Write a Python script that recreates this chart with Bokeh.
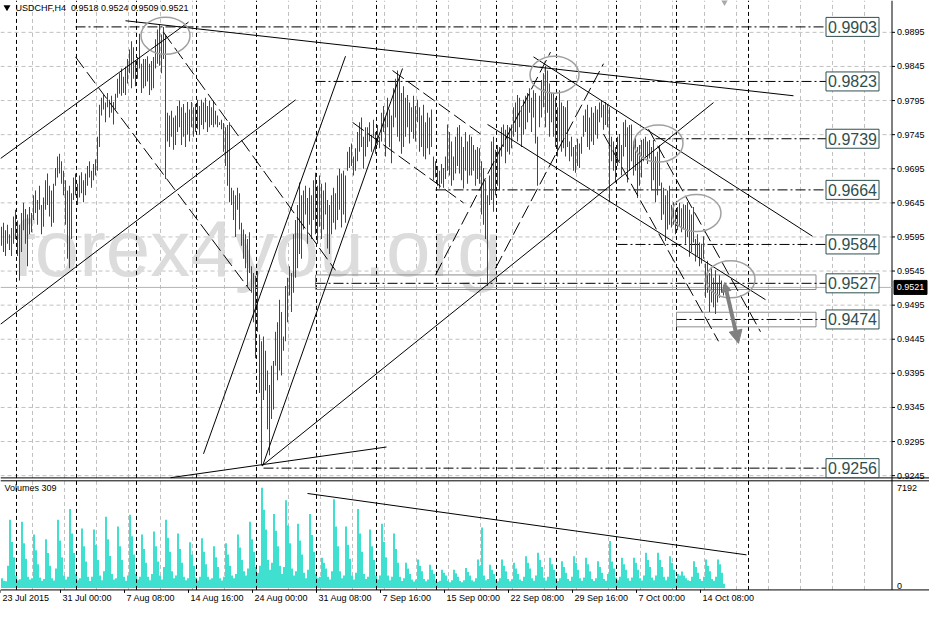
from bokeh.plotting import figure
from bokeh.models import Range1d, ColumnDataSource, Arrow, NormalHead
from bokeh.core.properties import value
from bokeh.embed import file_html
from bokeh.resources import INLINE

# ---------------- data ----------------
symbol_title = "USDCHF,H4"
last_ohlc = ["0.9518", "0.9524", "0.9509", "0.9521"]
volume_title = "Volumes 309"
watermark = "forex4you.org"

highs = [
    0.9610, 0.9616, 0.9605, 0.9613, 0.9599, 0.9608,
    0.9625, 0.9635, 0.9619, 0.9613, 0.9630,
    0.9645, 0.9636, 0.9628, 0.9639, 0.9630,
    0.9656, 0.9663, 0.9649, 0.9670, 0.9642, 0.9653,
    0.9678, 0.9688, 0.9670, 0.9663, 0.9673,
    0.9696, 0.9713, 0.9717, 0.9706,
    0.9692, 0.9678, 0.9663, 0.9670, 0.9659,
    0.9682, 0.9688, 0.9673, 0.9685, 0.9690, 0.9678, 0.9688,
    0.9699, 0.9706, 0.9692, 0.9702, 0.9709,
    0.9742, 0.9789,
    0.9799, 0.9803, 0.9792, 0.9806, 0.9796, 0.9802, 0.9793, 0.9805,
    0.9827, 0.9835, 0.9842, 0.9830, 0.9845,
    0.9856, 0.9870, 0.9882, 0.9873,
    0.9853, 0.9859, 0.9893, 0.9849, 0.9856,
    0.9856, 0.9860, 0.9849, 0.9853, 0.9859,
    0.9885, 0.9899, 0.9906, 0.9892, 0.9903,
    0.9892,
    0.9777, 0.9773, 0.9780, 0.9770, 0.9773,
    0.9787, 0.9795, 0.9785, 0.9790, 0.9777, 0.9793, 0.9782,
    0.9793, 0.9785, 0.9790, 0.9796, 0.9787,
    0.9796, 0.9792, 0.9799, 0.9787, 0.9795, 0.9785, 0.9793,
    0.9780, 0.9773, 0.9763, 0.9767,
    0.9762, 0.9756, 0.9759, 0.9763,
    0.9667, 0.9663, 0.9656, 0.9667, 0.9659,
    0.9616, 0.9606, 0.9599, 0.9592, 0.9602,
    0.9552, 0.9542, 0.9538, 0.9545,
    0.9452, 0.9442, 0.9449,
    0.9428, 0.9399, 0.9378, 0.9406, 0.9413,
    0.9456, 0.9470, 0.9503, 0.9485, 0.9449,
    0.9523, 0.9535, 0.9552, 0.9542,
    0.9599, 0.9620, 0.9642, 0.9675, 0.9656,
    0.9663, 0.9670, 0.9652, 0.9667, 0.9656,
    0.9678, 0.9689, 0.9670, 0.9685, 0.9673,
    0.9663, 0.9675, 0.9649, 0.9642, 0.9656, 0.9667, 0.9659,
    0.9685, 0.9695, 0.9688, 0.9692, 0.9685,
    0.9720, 0.9727, 0.9732, 0.9713, 0.9725,
    0.9749, 0.9763, 0.9770, 0.9742, 0.9756,
    0.9756, 0.9763, 0.9745, 0.9767, 0.9749, 0.9759, 0.9742,
    0.9777, 0.9787, 0.9770, 0.9799, 0.9782, 0.9773,
    0.9813, 0.9827, 0.9839, 0.9830, 0.9806, 0.9816,
    0.9799, 0.9803, 0.9792, 0.9785, 0.9802, 0.9787, 0.9796,
    0.9785, 0.9773, 0.9789, 0.9763, 0.9777, 0.9770, 0.9782,
    0.9713, 0.9706, 0.9699, 0.9692, 0.9702, 0.9696, 0.9713,
    0.9760, 0.9749, 0.9735, 0.9713, 0.9742,
    0.9756, 0.9759, 0.9742, 0.9727, 0.9749, 0.9735, 0.9745,
    0.9742, 0.9730, 0.9723, 0.9727, 0.9725,
    0.9706, 0.9696, 0.9678, 0.9656, 0.9685,
    0.9735, 0.9742, 0.9723, 0.9730, 0.9727,
    0.9756, 0.9760, 0.9752, 0.9759, 0.9756, 0.9760,
    0.9785, 0.9792, 0.9803, 0.9799, 0.9787, 0.9796, 0.9802,
    0.9806, 0.9813, 0.9799, 0.9810, 0.9806, 0.9742, 0.9802,
    0.9825, 0.9835, 0.9846, 0.9839, 0.9820, 0.9806,
    0.9806, 0.9799, 0.9785, 0.9810, 0.9792, 0.9787, 0.9785, 0.9795,
    0.9735, 0.9742, 0.9727, 0.9730, 0.9739, 0.9732, 0.9742,
    0.9773, 0.9782, 0.9789, 0.9770, 0.9785, 0.9777, 0.9787, 0.9782,
    0.9792, 0.9795, 0.9789, 0.9793, 0.9790,
    0.9785, 0.9742,
    0.9735, 0.9727, 0.9742, 0.9746, 0.9730,
    0.9763, 0.9767, 0.9756, 0.9759, 0.9760,
    0.9735, 0.9742, 0.9727, 0.9730, 0.9737,
    0.9739, 0.9742, 0.9735, 0.9737,
    0.9727, 0.9737, 0.9713, 0.9720, 0.9730,
    0.9675, 0.9667, 0.9656, 0.9663, 0.9670,
    0.9642, 0.9646, 0.9635, 0.9639, 0.9645, 0.9637, 0.9643,
    0.9642, 0.9646, 0.9635, 0.9628, 0.9639,
    0.9592, 0.9599, 0.9587, 0.9585, 0.9596,
    0.9556, 0.9560, 0.9542, 0.9549,
    0.9535, 0.9546, 0.9528, 0.9539, 0.9531, 0.9524,
]

lows = [
    0.9582, 0.9573, 0.9567, 0.9585, 0.9576, 0.9567,
    0.9585, 0.9592, 0.9567, 0.9531, 0.9573,
    0.9605, 0.9585, 0.9552, 0.9599, 0.9602,
    0.9620, 0.9630, 0.9613, 0.9635, 0.9599, 0.9610,
    0.9635, 0.9642, 0.9625, 0.9610, 0.9616,
    0.9670, 0.9682, 0.9688, 0.9673,
    0.9656, 0.9613, 0.9563, 0.9549, 0.9592,
    0.9649, 0.9656, 0.9642, 0.9653, 0.9659, 0.9646, 0.9656,
    0.9670, 0.9682, 0.9667, 0.9678, 0.9685,
    0.9692, 0.9727,
    0.9773, 0.9782, 0.9763, 0.9785, 0.9770, 0.9777, 0.9760, 0.9782,
    0.9799, 0.9805, 0.9802, 0.9806, 0.9803,
    0.9820, 0.9835, 0.9813, 0.9827,
    0.9816, 0.9827, 0.9842, 0.9806, 0.9813,
    0.9816, 0.9823, 0.9803, 0.9810, 0.9813,
    0.9842, 0.9849, 0.9846, 0.9835, 0.9856,
    0.9680,
    0.9735, 0.9727, 0.9742, 0.9723, 0.9730,
    0.9749, 0.9756, 0.9730, 0.9742, 0.9727, 0.9745, 0.9735,
    0.9756, 0.9742, 0.9749, 0.9753, 0.9745,
    0.9759, 0.9753, 0.9763, 0.9749, 0.9756, 0.9759, 0.9756,
    0.9760, 0.9756, 0.9759, 0.9753,
    0.9720, 0.9699, 0.9670, 0.9646,
    0.9642, 0.9620, 0.9595, 0.9635, 0.9606,
    0.9582, 0.9563, 0.9549, 0.9523, 0.9542,
    0.9513, 0.9470, 0.9417, 0.9456,
    0.9366, 0.9260, 0.9356,
    0.9370, 0.9313, 0.9275, 0.9328, 0.9342,
    0.9406, 0.9385, 0.9399, 0.9392, 0.9428,
    0.9442, 0.9470, 0.9509, 0.9485,
    0.9513, 0.9535, 0.9549, 0.9570, 0.9563,
    0.9606, 0.9628, 0.9585, 0.9613, 0.9592,
    0.9620, 0.9599, 0.9585, 0.9610, 0.9592,
    0.9606, 0.9628, 0.9578, 0.9570, 0.9599, 0.9616, 0.9606,
    0.9620, 0.9635, 0.9609, 0.9628, 0.9616,
    0.9692, 0.9696, 0.9699, 0.9685, 0.9692,
    0.9706, 0.9720, 0.9727, 0.9695, 0.9713,
    0.9727, 0.9735, 0.9720, 0.9742, 0.9717, 0.9730, 0.9725,
    0.9735, 0.9749, 0.9713, 0.9756, 0.9727, 0.9703,
    0.9756, 0.9770, 0.9742, 0.9735, 0.9717, 0.9727,
    0.9742, 0.9756, 0.9732, 0.9749, 0.9739, 0.9735, 0.9763,
    0.9720, 0.9727, 0.9713, 0.9709, 0.9725, 0.9716, 0.9727,
    0.9678, 0.9682, 0.9670, 0.9666, 0.9673, 0.9667, 0.9680,
    0.9692, 0.9685, 0.9670, 0.9678, 0.9688,
    0.9699, 0.9688, 0.9678, 0.9666, 0.9692, 0.9673, 0.9685,
    0.9685, 0.9692, 0.9670, 0.9680, 0.9673,
    0.9628, 0.9613, 0.9592, 0.9523, 0.9642,
    0.9649, 0.9632, 0.9656, 0.9670, 0.9663,
    0.9713, 0.9727, 0.9703, 0.9720, 0.9716, 0.9725,
    0.9742, 0.9749, 0.9735, 0.9756, 0.9727, 0.9745, 0.9753,
    0.9763, 0.9777, 0.9749, 0.9770, 0.9732, 0.9670, 0.9756,
    0.9770, 0.9785, 0.9756, 0.9777, 0.9742, 0.9763,
    0.9742, 0.9727, 0.9713, 0.9735, 0.9720, 0.9725, 0.9713, 0.9727,
    0.9706, 0.9713, 0.9692, 0.9689, 0.9699, 0.9696, 0.9717,
    0.9742, 0.9749, 0.9727, 0.9723, 0.9735, 0.9730, 0.9745, 0.9739,
    0.9763, 0.9770, 0.9752, 0.9759, 0.9756,
    0.9646, 0.9706,
    0.9692, 0.9675, 0.9699, 0.9706, 0.9685,
    0.9713, 0.9727, 0.9675, 0.9692, 0.9706,
    0.9685, 0.9692, 0.9652, 0.9670, 0.9682,
    0.9706, 0.9713, 0.9702, 0.9710,
    0.9663, 0.9678, 0.9646, 0.9656, 0.9670,
    0.9620, 0.9628, 0.9589, 0.9606, 0.9613,
    0.9609, 0.9613, 0.9599, 0.9605, 0.9610, 0.9602, 0.9606,
    0.9585, 0.9595, 0.9566, 0.9573, 0.9587,
    0.9559, 0.9567, 0.9552, 0.9556, 0.9563,
    0.9506, 0.9513, 0.9485, 0.9499,
    0.9492, 0.9482, 0.9499, 0.9506, 0.9513, 0.9509,
]

volumes = [
    700, 520, 480, 1600, 4890, 3300,
    2200, 900, 560, 620, 4750, 3200,
    2100, 800, 600, 700, 3840, 2700,
    1700, 760, 520, 650, 3490, 2500,
    1600, 700, 540, 1400, 4890, 3400,
    2200, 900, 600, 800, 5660, 3900,
    2500, 1000, 560, 700, 4260, 3000,
    1900, 800, 500, 800, 4190, 3100,
    2000, 900, 560, 1200, 5100, 3500,
    2300, 1000, 600, 700, 4400, 3000,
    2000, 800, 520, 900, 5240, 3700,
    2400, 1000, 600, 800, 3840, 2800,
    1800, 800, 560, 1000, 4050, 3000,
    1900, 900, 600, 1500, 4890, 3600,
    2600, 1200, 700, 900, 3910, 2800,
    1800, 800, 560, 700, 3280, 2400,
    1600, 760, 540, 800, 3560, 2600,
    1700, 800, 600, 700, 3000, 2200,
    1500, 700, 540, 800, 3210, 2400,
    1600, 900, 700, 1000, 3840, 2900,
    2000, 1200, 900, 1400, 4750, 3500,
    2600, 1500, 1100, 1600, 7192, 5600,
    4200, 2000, 1300, 1800, 5310, 4100,
    3000, 1600, 1000, 1500, 6290, 4500,
    3200, 1400, 900, 1200, 4610, 3400,
    2400, 1100, 700, 1300, 5310, 3800,
    2600, 1000, 700, 800, 2170, 1800,
    1400, 800, 600, 1200, 6360, 4400,
    3000, 1200, 700, 900, 4400, 3100,
    2100, 900, 600, 1100, 5660, 3900,
    2600, 1000, 640, 800, 4190, 3000,
    2000, 900, 600, 900, 4610, 3300,
    2200, 900, 560, 800, 3910, 2800,
    1800, 800, 500, 700, 1800, 1400,
    1000, 600, 460, 600, 2040, 1600,
    1200, 640, 480, 600, 1670, 1300,
    1000, 560, 440, 520, 1310, 1100,
    900, 520, 420, 560, 1310, 1050,
    800, 500, 420, 560, 1430, 1150,
    900, 560, 460, 700, 2040, 1600,
    4340, 900, 560, 640, 1670, 1300,
    1000, 600, 480, 700, 2040, 1600,
    1200, 640, 480, 620, 1800, 1400,
    1000, 600, 500, 800, 2280, 1800,
    1400, 700, 520, 900, 2520, 2000,
    1500, 760, 540, 800, 2160, 1700,
    1300, 700, 500, 700, 1910, 1500,
    1100, 640, 500, 800, 2280, 1800,
    1300, 700, 520, 760, 2160, 1700,
    1200, 640, 500, 700, 1910, 1500,
    1100, 640, 520, 1000, 3370, 1900,
    1400, 760, 560, 800, 2160, 1700,
    1300, 700, 520, 760, 2160, 1800,
    1300, 700, 540, 900, 2520, 2000,
    1500, 760, 560, 900, 2520, 2000,
    1500, 800, 560, 800, 2280, 1800,
    1300, 700, 1000, 900, 1190, 900,
    700, 560, 500, 800, 1910, 1500,
    1100, 640, 500, 800, 2040, 1600,
    1200, 640, 520, 800, 2040, 1700,
    1100, 309,
]

price_ticks = [0.9245, 0.9295, 0.9345, 0.9395, 0.9445, 0.9495, 0.9545,
               0.9595, 0.9645, 0.9695, 0.9745, 0.9795, 0.9845, 0.9895]
vol_scale_labels = ["7192", "0"]
time_labels = ["23 Jul 2015", "31 Jul 00:00", "7 Aug 08:00", "14 Aug 16:00",
               "24 Aug 00:00", "31 Aug 08:00", "7 Sep 16:00", "15 Sep 00:00",
               "22 Sep 08:00", "29 Sep 16:00", "7 Oct 00:00", "14 Oct 08:00"]
time_label_bars = [-0.5, 29.5, 61.5, 93.5, 125.5, 157.5, 189.5, 221.5,
                   253.5, 285.5, 317.5, 349.5]
week_separators = [7.5, 37.5, 67.5, 97.5, 127.5, 157.5, 187.5, 217.5,
                   247.5, 277.5, 307.5, 337.5, 373.5]

levels = [0.9903, 0.9823, 0.9739, 0.9664, 0.9584, 0.9527, 0.9474, 0.9256]
level_start_bars = [37, 157, 327, 217, 308, 157, 337.5, 131]
zones = [  # left bar, top price, bottom price
    (157, 0.95393, 0.95179),
    (337.5, 0.94846, 0.94632),
]
bid_price = 0.9521

solid_lines = [  # (bar0, price0, bar1, price1)
    (62, 0.9912, 396, 0.9802),
    (-0.5, 0.9710, 93.5, 0.9910),
    (-0.5, 0.9467, 147, 0.9796),
    (130.5, 0.9260, 356, 0.9792),
    (101, 0.9277, 172, 0.9860),
    (130.5, 0.9259, 200.5, 0.9842),
    (84.5, 0.9242, 192.5, 0.9287),
    (266, 0.9859, 405.5, 0.9596),
    (243, 0.9760, 382, 0.9503),
]
dashed_lines = [
    (37, 0.9859, 124.5, 0.9516),
    (81, 0.9895, 167, 0.9546),
    (195.5, 0.9839, 239.5, 0.9746),
    (175.5, 0.9763, 231, 0.9645),
    (217, 0.9539, 274.5, 0.9866),
    (247, 0.9549, 301, 0.9849),
    (301, 0.9746, 358.5, 0.9442),
    (323.5, 0.9753, 379.5, 0.9456),
]
ellipse_bars = [82, 276.5, 328.5, 347.5, 364.5]
ellipse_prices = [0.9890, 0.9833, 0.9732, 0.9630, 0.9533]
arrow_path = (361.5, 0.9528, 368.5, 0.9439)
volume_trend = (153, 6773, 372.5, 2374)

# ---------------- layout / style ----------------
FONT = "Liberation Sans"
BAR_COLOR = "#2F4F4F"
VOL_COLOR = "#40E0D0"
GRID_COLOR = "#C0C0C0"
W, H = 929, 606
PX_PER_BAR = 2.0
X_LO = -0.5
X_HI = X_LO + W / PX_PER_BAR
PRICE_HI = 0.99417
PRICE_LO = PRICE_HI - 622 / 7000.0
VOL_HI = 603 * 69.825
VOL_LO = (603 - 622) * 69.825
PANEL_BOTTOM = PRICE_HI - 605 / 7000.0       # bottom border of the volume window
PANEL_SPLIT = [PRICE_HI - 490 / 7000.0, PRICE_HI - 493 / 7000.0]
TIME_TICK_END = PRICE_HI - 608 / 7000.0
TIME_LABEL_Y = PRICE_HI - 613 / 7000.0
VOL_LABEL_Y = [PRICE_HI - 500 / 7000.0, PRICE_HI - 601 / 7000.0]
WATERMARK_BASE = PRICE_HI - 255 / 7000.0
WATERMARK_BAR = 5.5
AXIS_BAR = 445.25
AXIS_LABEL_BAR = 447.75
TAG_BAR = 454.5
BOX_BAR = 425.5
LEVEL_END_BAR = 412.25
ZONE_RIGHT_BAR = 407.25

p = figure(width=W, height=H, output_backend="svg", toolbar_location=None,
           x_range=Range1d(X_LO, X_HI), y_range=Range1d(PRICE_LO, PRICE_HI),
           x_axis_location=None, y_axis_location=None,
           min_border_left=0, min_border_top=0, min_border_right=0, min_border_bottom=0)
p.extra_y_ranges = {"vol": Range1d(VOL_LO, VOL_HI)}
p.outline_line_color = None
p.xgrid.visible = False
p.ygrid.visible = False
p.background_fill_color = "white"
p.border_fill_color = "white"

# grid (dashed light gray)
gx = [16 * k - 0.5 for k in range(1, 28)]
p.segment(x0=gx, x1=gx, y0=[PANEL_BOTTOM] * len(gx), y1=[PRICE_HI] * len(gx),
          line_color=GRID_COLOR, line_dash="4 3", line_width=1)
p.segment(x0=[X_LO] * len(price_ticks), x1=[AXIS_BAR] * len(price_ticks),
          y0=price_ticks, y1=price_ticks,
          line_color=GRID_COLOR, line_dash="4 3", line_width=1)

# watermark
p.text(x=[WATERMARK_BAR], y=[WATERMARK_BASE], text=[watermark], text_font=value(FONT),
       text_font_size="80px", text_color="#DCDCDC",
       text_align="left", text_baseline="alphabetic")

# volumes (2-px wide columns)
n = min(len(highs), len(lows), len(volumes))
xs = list(range(n))
vsrc = ColumnDataSource(dict(x=[i + 0.25 for i in xs], v=volumes[:n]))
p.vbar(x="x", top="v", bottom=0, width=1.0, source=vsrc, y_range_name="vol",
       fill_color=VOL_COLOR, line_color=None)

# week separators
p.segment(x0=week_separators, x1=week_separators,
          y0=[PANEL_BOTTOM] * len(week_separators), y1=[PRICE_HI] * len(week_separators),
          line_color="black", line_dash="4 3", line_width=1)

# window borders: panel split (double line), bottom border, price scale line
p.segment(x0=[X_LO] * 3, x1=[X_HI] * 3,
          y0=PANEL_SPLIT + [PANEL_BOTTOM], y1=PANEL_SPLIT + [PANEL_BOTTOM],
          line_color="black", line_width=1)
p.segment(x0=[AXIS_BAR], x1=[AXIS_BAR], y0=[PANEL_BOTTOM], y1=[PRICE_HI],
          line_color="black", line_width=1)

# bid line
p.segment(x0=[X_LO], x1=[AXIS_BAR], y0=[bid_price], y1=[bid_price],
          line_color="#B4B4B4", line_width=1)

# zones
p.quad(left=[z[0] for z in zones], right=[ZONE_RIGHT_BAR] * len(zones),
       top=[z[1] for z in zones], bottom=[z[2] for z in zones],
       fill_color=None, line_color="#8C8C8C", line_width=1)

# level lines
p.segment(x0=level_start_bars, x1=[LEVEL_END_BAR] * len(levels), y0=levels, y1=levels,
          line_color="black", line_dash="10 3 2 3", line_width=1)

# price bars (1-px wide high-low columns, 2 px apart)
psrc = ColumnDataSource(dict(x=xs, h=highs[:n], l=lows[:n]))
p.vbar(x="x", top="h", bottom="l", width=0.5, source=psrc,
       fill_color=BAR_COLOR, line_color=None)

# trend lines
p.segment(x0=[s[0] for s in solid_lines], y0=[s[1] for s in solid_lines],
          x1=[s[2] for s in solid_lines], y1=[s[3] for s in solid_lines],
          line_color="black", line_width=1)
p.segment(x0=[s[0] for s in dashed_lines], y0=[s[1] for s in dashed_lines],
          x1=[s[2] for s in dashed_lines], y1=[s[3] for s in dashed_lines],
          line_color="black", line_width=1, line_dash="14 5")
p.line(x=[volume_trend[0], volume_trend[2]], y=[volume_trend[1], volume_trend[3]],
       y_range_name="vol", line_color="black", line_width=1)

# ellipses
p.ellipse(x=ellipse_bars, y=ellipse_prices, width=49, height=37,
          width_units="screen", height_units="screen",
          fill_color=None, line_color="#A0A0A0", line_width=1.5)

# arrow
gray = "#808080"
p.add_layout(Arrow(end=NormalHead(size=13, fill_color=gray, line_color=gray),
                   start=NormalHead(size=9, fill_color=gray, line_color=gray),
                   x_start=arrow_path[0], y_start=arrow_path[1],
                   x_end=arrow_path[2], y_end=arrow_path[3],
                   line_color=gray, line_width=4))

# level boxes
p.rect(x=[BOX_BAR] * len(levels), y=levels, width=53, height=19,
       width_units="screen", height_units="screen",
       fill_color="white", line_color=BAR_COLOR, line_width=1)
p.text(x=[BOX_BAR] * len(levels), y=levels, text=[f"{v:.4f}" for v in levels],
       text_font=value(FONT), text_font_size="16px", text_color=BAR_COLOR,
       text_align="center", text_baseline="middle")

# price scale: ticks and labels
p.segment(x0=[AXIS_BAR] * len(price_ticks), x1=[AXIS_BAR + 1.5] * len(price_ticks),
          y0=price_ticks, y1=price_ticks, line_color="black", line_width=1)
p.text(x=[AXIS_LABEL_BAR] * len(price_ticks), y=price_ticks,
       text=[f"{t:.4f}" for t in price_ticks],
       text_font=value(FONT), text_font_size="9px", text_color="black",
       text_align="left", text_baseline="middle")
p.text(x=[AXIS_LABEL_BAR] * 2, y=VOL_LABEL_Y, text=vol_scale_labels,
       text_font=value(FONT), text_font_size="9px", text_color="black",
       text_align="left", text_baseline="middle")

# current price tag
p.rect(x=[TAG_BAR], y=[bid_price], width=33, height=14,
       width_units="screen", height_units="screen",
       fill_color="black", line_color="black")
p.text(x=[TAG_BAR], y=[bid_price], text=[f"{bid_price:.4f}"],
       text_font=value(FONT), text_font_size="9px", text_color="white",
       text_align="center", text_baseline="middle")

# time scale: ticks and labels
p.segment(x0=time_label_bars, x1=time_label_bars,
          y0=[PANEL_BOTTOM] * len(time_label_bars), y1=[TIME_TICK_END] * len(time_label_bars),
          line_color="black", line_width=1)
p.text(x=time_label_bars, y=[TIME_LABEL_Y] * len(time_label_bars), text=time_labels,
       x_offset=2, text_font=value(FONT), text_font_size="9px", text_color="black",
       text_align="left", text_baseline="middle")

# chart-shift marker and header
p.scatter(x=[361.5], y=[0.99431], marker="inverted_triangle", size=11,
          fill_color="#A9A9A9", line_color=None)
p.scatter(x=[2.75], y=[0.99317], marker="inverted_triangle", size=7,
          fill_color="black", line_color=None)
p.text(x=[7], y=[0.99303], text=[symbol_title + "\u00a0\u00a0" + " ".join(last_ohlc)],
       text_font=value(FONT), text_font_size="9px", text_color="black",
       text_align="left", text_baseline="middle")
p.text(x=[1.5], y=[7192], y_range_name="vol", text=[volume_title],
       text_font=value(FONT), text_font_size="9px", text_color="black",
       text_align="left", text_baseline="middle")

open("out.html", "w").write(file_html(p, INLINE))
